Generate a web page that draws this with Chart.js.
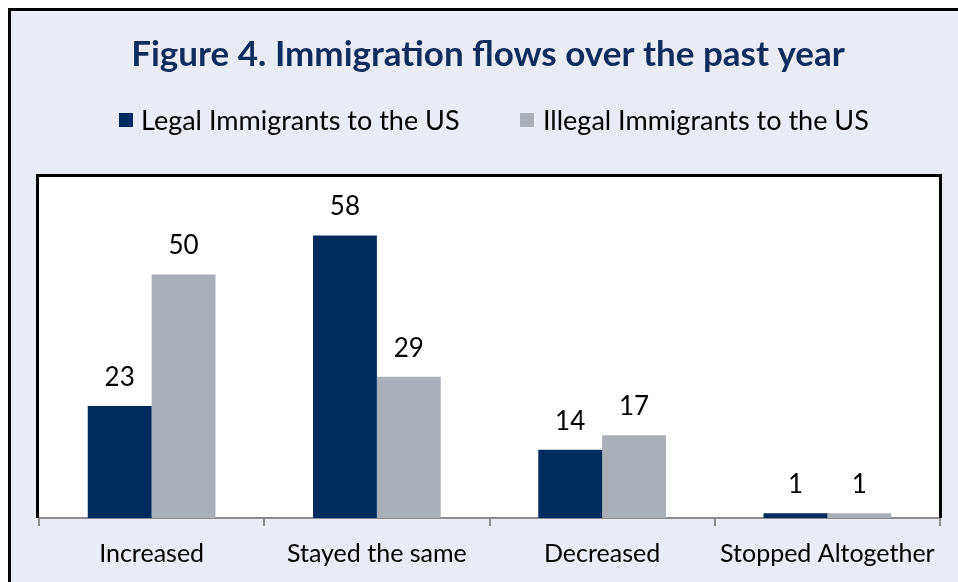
<!DOCTYPE html>
<html><head><meta charset="utf-8">
<script src="https://cdn.jsdelivr.net/npm/chart.js@4/dist/chart.umd.min.js"></script>
<style>html,body{margin:0;padding:0;background:#fff}#wrap{width:958px;height:582px;position:relative}</style>
</head><body><div id="wrap"><canvas id="c" width="958" height="582"></canvas></div>
<script>
const categories = ["Increased", "Stayed the same", "Decreased", "Stopped Altogether"];
const legalValues = [23, 58, 14, 1];
const illegalValues = [50, 29, 17, 1];
const seriesNames = ["Legal Immigrants to the US", "Illegal Immigrants to the US"];
const titleText = "Figure 4. Immigration flows over the past year";

const NAVY = "#002B5C", GRAY = "#A9AEB7", BG = "#E9ECF4";
const FONT = "Lato, 'Open Sans', sans-serif";

const decor = {
  id: "decor",
  beforeDraw(chart) {
    const ctx = chart.ctx, a = chart.chartArea;
    ctx.save();
    ctx.fillStyle = "#fff"; ctx.fillRect(0, 0, 958, 582);
    ctx.fillStyle = BG; ctx.fillRect(9, 9, 960, 600);
    ctx.strokeStyle = "#000"; ctx.lineWidth = 3;
    ctx.strokeRect(9.5, 9.5, 960, 600);
    ctx.fillStyle = "#fff"; ctx.fillRect(a.left, a.top, a.right - a.left, a.bottom - a.top);
    // title
    ctx.fillStyle = "#0F2D5C";
    ctx.font = "bold 35px " + FONT;
    ctx.textAlign = "center"; ctx.textBaseline = "middle";
    ctx.fillText(titleText, 488, 55);
    // legend
    ctx.font = "27px " + FONT;
    ctx.textAlign = "left";
    ctx.fillStyle = NAVY; ctx.fillRect(119, 113, 14, 14);
    ctx.fillStyle = "#000"; ctx.fillText(seriesNames[0], 141, 121);
    ctx.fillStyle = GRAY; ctx.fillRect(520, 113, 14, 14);
    ctx.fillStyle = "#000"; ctx.fillText(seriesNames[1], 543, 121);
    ctx.restore();
  },
  afterDatasetsDraw(chart) {
    const ctx = chart.ctx, a = chart.chartArea;
    ctx.save();
    ctx.font = "26px " + FONT;
    ctx.fillStyle = "#000"; ctx.textAlign = "center"; ctx.textBaseline = "alphabetic";
    chart.data.datasets.forEach((ds, i) => {
      chart.getDatasetMeta(i).data.forEach((bar, j) => {
        ctx.fillText(String(ds.data[j]), bar.x, bar.y - 20);
      });
    });
    // plot border (left, top, right)
    ctx.strokeStyle = "#000"; ctx.lineWidth = 3;
    ctx.beginPath();
    ctx.moveTo(a.left - 1.5, a.bottom);
    ctx.lineTo(a.left - 1.5, a.top - 1.5);
    ctx.lineTo(a.right + 0.5, a.top - 1.5);
    ctx.lineTo(a.right + 0.5, a.bottom);
    ctx.stroke();
    ctx.restore();
  }
};

new Chart(document.getElementById("c"), {
  type: "bar",
  data: {
    labels: categories,
    datasets: [
      { label: seriesNames[0], data: legalValues, backgroundColor: NAVY },
      { label: seriesNames[1], data: illegalValues, backgroundColor: GRAY }
    ]
  },
  options: {
    responsive: false, animation: false,
    layout: { padding: { left: 39, right: 18, top: 177, bottom: 0 } },
    datasets: { bar: { categoryPercentage: 0.567, barPercentage: 1.0 } },
    plugins: { legend: { display: false }, title: { display: false }, tooltip: { enabled: false } },
    scales: {
      y: { display: false, min: 0, max: 70 },
      x: {
        offset: true,
        afterFit: s => { s.height = 64; },
        border: { display: true, color: "#8C8C8C", width: 2 },
        grid: { display: true, drawOnChartArea: false, drawTicks: true, tickLength: 8, color: "#8C8C8C", lineWidth: 2, offset: true },
        ticks: { color: "#000", font: { family: FONT, size: 25 }, padding: 13, maxRotation: 0 }
      }
    }
  },
  plugins: [decor]
});
</script></body></html>
